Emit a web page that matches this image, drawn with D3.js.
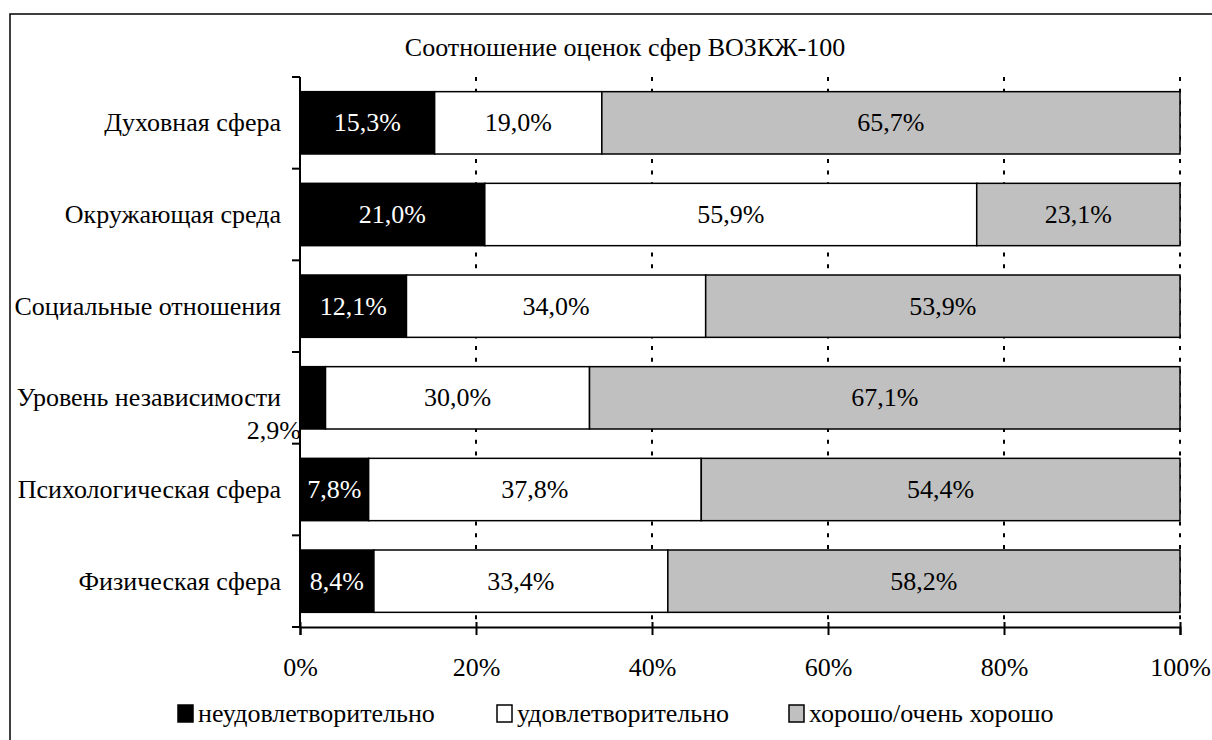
<!DOCTYPE html>
<html><head><meta charset="utf-8">
<script src="https://cdn.jsdelivr.net/npm/d3@7"></script>
<style>
html,body{margin:0;padding:0;background:#fff;}
svg{display:block;}
</style></head>
<body><svg id="c" width="1212" height="740" font-family="'Liberation Sans Narrow', 'Liberation Serif', serif"></svg>
<script>
const title = "Соотношение оценок сфер ВОЗКЖ-100";
const categories = ["Духовная сфера","Окружающая среда","Социальные отношения","Уровень независимости","Психологическая сфера","Физическая сфера"];
const seriesNames = ["неудовлетворительно","удовлетворительно","хорошо/очень хорошо"];
const unsatisfactory = [15.3, 21.0, 12.1, 2.9, 7.8, 8.4];
const satisfactory = [19.0, 55.9, 34.0, 30.0, 37.8, 33.4];
const good = [65.7, 23.1, 53.9, 67.1, 54.4, 58.2];
const xTicks = [0, 20, 40, 60, 80, 100];

const colors = ["#000000", "#ffffff", "#c0c0c0"];
const labelColors = ["#ffffff", "#000000", "#000000"];
const FS = 26;

const svg = d3.select("#c");
svg.append("rect").attr("x",10).attr("y",14).attr("width",1230).attr("height",760)
  .attr("fill","none").attr("stroke","#000").attr("stroke-width",1.5);

svg.append("text").attr("x",625).attr("y",47).attr("text-anchor","middle")
  .attr("dominant-baseline","central").attr("font-size",FS).text(title);

const x = d3.scaleLinear().domain([0,100]).range([300,1180]);
const y = d3.scaleBand().domain(categories).range([77,627]).paddingInner(0.32).paddingOuter(0.16);

svg.append("g").selectAll("line").data(xTicks.filter(d=>d>0)).join("line")
  .attr("x1",d=>x(d)).attr("x2",d=>x(d)).attr("y1",77).attr("y2",627)
  .attr("stroke","#000").attr("stroke-width",2).attr("stroke-dasharray","4,7.7");

const series = [unsatisfactory, satisfactory, good];
const flat = categories.map((c,i)=>{
  let acc=0;
  return series.map((s,k)=>{const r={cat:c,k,v:s[i],x0:acc,x1:acc+s[i]}; acc+=s[i]; return r;});
}).flat();

svg.append("g").selectAll("rect").data(flat).join("rect")
  .attr("x",d=>x(d.x0)).attr("width",d=>x(d.x1)-x(d.x0))
  .attr("y",d=>y(d.cat)).attr("height",y.bandwidth())
  .attr("fill",d=>colors[d.k]).attr("stroke","#000").attr("stroke-width",1.5);

const fmt = v => v.toFixed(1).replace(".", ",") + "%";
svg.append("g").selectAll("text").data(flat).join("text")
  .attr("font-size",FS)
  .attr("fill",d=> d.v<5 ? "#000" : labelColors[d.k])
  .attr("text-anchor",d=> d.v<5 ? "end" : "middle")
  .attr("dominant-baseline","central")
  .attr("x",d=> d.v<5 ? x(d.x0)+1 : (x(d.x0)+x(d.x1))/2)
  .attr("y",d=> d.v<5 ? y(d.cat)+y.bandwidth()+1 : y(d.cat)+y.bandwidth()/2)
  .text(d=>fmt(d.v));

svg.append("g").selectAll("text").data(categories).join("text")
  .attr("font-size",FS).attr("text-anchor","end").attr("dominant-baseline","central")
  .attr("x",281).attr("y",d=>y(d)+y.bandwidth()/2).text(d=>d);

const bounds = d3.range(categories.length+1).map(i=>77 + i*y.step());
svg.append("line").attr("x1",300).attr("x2",300).attr("y1",77).attr("y2",627)
  .attr("stroke","#000").attr("stroke-width",2);
svg.append("g").selectAll("line").data(bounds).join("line")
  .attr("x1",292).attr("x2",300).attr("y1",d=>d).attr("y2",d=>d)
  .attr("stroke","#000").attr("stroke-width",2);

const xa = svg.append("g").attr("transform","translate(0,627)")
  .call(d3.axisBottom(x).tickValues(xTicks).tickSize(8).tickFormat(d=>d+"%"));
xa.attr("font-family",null).attr("font-size",null);
xa.select(".domain").attr("stroke","#000").attr("stroke-width",2);
xa.selectAll(".tick line").attr("y1",-5).attr("y2",8).attr("stroke","#000").attr("stroke-width",2);
xa.selectAll(".tick text").attr("font-size",FS).attr("fill","#000")
  .attr("y",40).attr("dy",null).attr("dominant-baseline","central");

const legX = [178, 497, 789];
const leg = svg.append("g").selectAll("g").data(seriesNames).join("g")
  .attr("transform",(d,i)=>`translate(${legX[i]},713)`);
leg.append("rect").attr("x",0).attr("y",-8).attr("width",15).attr("height",17)
  .attr("fill",(d,i)=>colors[i]).attr("stroke","#000").attr("stroke-width",1.5);
leg.append("text").attr("x",20).attr("y",0).attr("dominant-baseline","central")
  .attr("font-size",FS).text(d=>d);
</script></body></html>
